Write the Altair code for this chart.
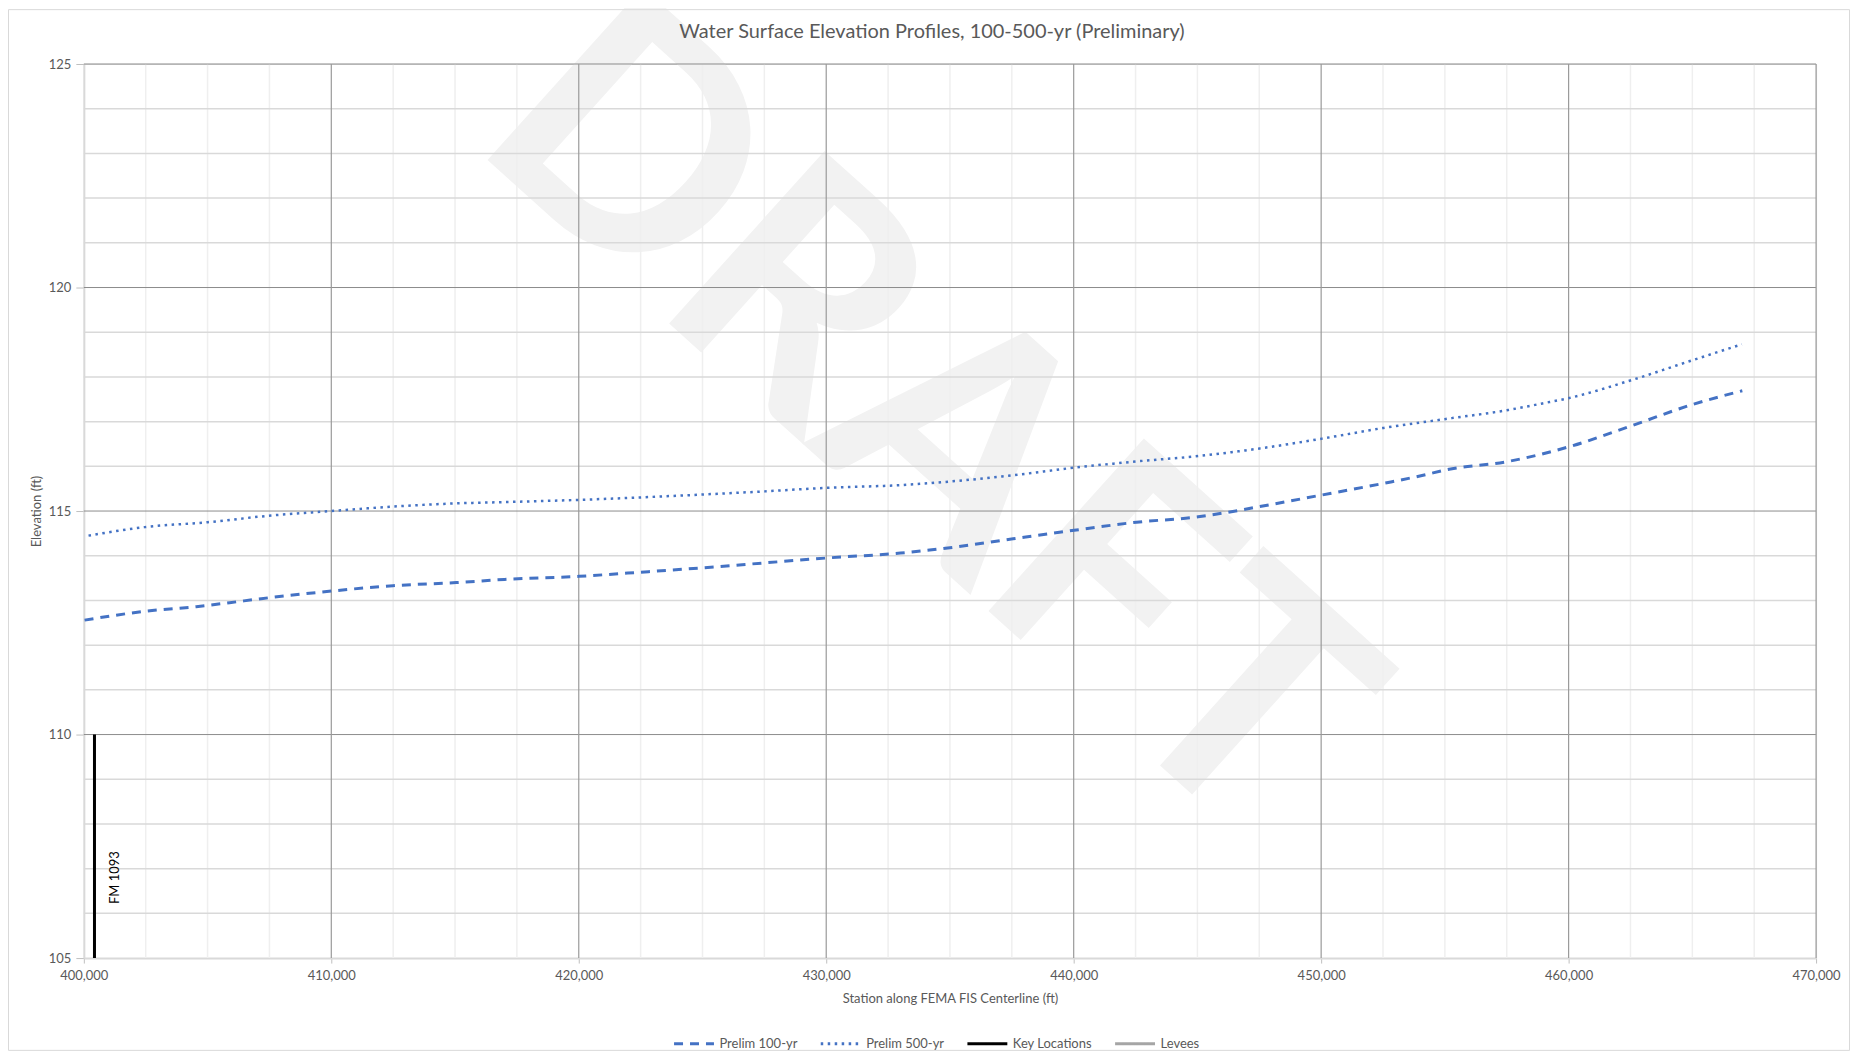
import altair as alt
import pandas as pd

# ---------------- data ----------------
series_names = ["Prelim 100-yr", "Prelim 500-yr", "Key Locations", "Levees"]
series_colors = ["#4472C4", "#4472C4", "#000000", "#A5A5A5"]
series_dashes = [[9, 7], [2.5, 4.5], [1, 0], [1, 0]]

st_100 = [400030, 402520, 404540, 405890, 407170, 410000, 412490, 415050, 417000,
          420010, 422460, 425020, 427510, 430030, 433000, 435000, 437550, 440020,
          442540, 445030, 446310, 447520, 450040, 452530, 454120, 455040,
          457560, 460030, 462550, 465040, 467020]
el_100 = [112.56, 112.76, 112.86, 112.95, 113.04, 113.21, 113.33, 113.40, 113.47,
          113.54, 113.63, 113.73, 113.84, 113.95, 114.06, 114.18, 114.38, 114.57,
          114.75, 114.87, 114.98, 115.10, 115.36, 115.62, 115.80, 115.92,
          116.11, 116.44, 116.91, 117.39, 117.69]

st_500 = [400190, 402450, 405010, 407570, 410000, 412490, 414980, 417000, 420010,
          425020, 427510, 430030, 433000, 435000, 437550, 440020, 442540, 445030,
          447520, 450040, 452530, 455040, 457560, 458970, 460030, 462550, 465040,
          467000]
el_500 = [114.45, 114.64, 114.75, 114.90, 115.00, 115.10, 115.17, 115.20, 115.25,
          115.37, 115.44, 115.52, 115.58, 115.66, 115.80, 115.97, 116.11, 116.23,
          116.40, 116.62, 116.86, 117.06, 117.26, 117.41, 117.53, 117.93, 118.38,
          118.73]

key_station = [400430]
key_low = [105]
key_high = [110]
key_label = ["FM 1093"]
key_label_elev = [106.8]

x_ticks = [400000, 410000, 420000, 430000, 440000, 450000, 460000, 470000]
x_major_grid = [410000, 420000, 430000, 440000, 450000, 460000, 470000]
x_minor_grid = [v for v in range(400000, 470001, 2500) if v % 10000 != 0]
y_ticks = [105, 110, 115, 120, 125]
y_major_grid = [110, 115, 120, 125]
y_minor_grid = [v for v in range(105, 126) if v % 5 != 0]

title_text = ["Water Surface Elevation Profiles, 100-500-yr (Preliminary)"]
watermark_text = ["DRAFT"]
watermark_station = [433900]
watermark_elev = [117.0]

# ---------------- tables ----------------
lines_df = pd.DataFrame({
    "station": st_100 + st_500,
    "elev": el_100 + el_500,
    "series": ["Prelim 100-yr"] * len(st_100) + ["Prelim 500-yr"] * len(st_500),
})
key_df = pd.DataFrame({"station": key_station, "lo": key_low, "hi": key_high,
                       "label": key_label, "ly": key_label_elev,
                       "series": ["Key Locations"]})
wm_df = pd.DataFrame({"station": watermark_station, "elev": watermark_elev, "t": watermark_text})
title_df = pd.DataFrame({"t": title_text})
one_df = pd.DataFrame({"a": [0]})

W, H = 1736, 896
FONT = "Lato"
GRAY_TXT = "#595959"

xs = alt.Scale(domain=[400000, 470000], nice=False, zero=False)
ys = alt.Scale(domain=[105, 125], nice=False, zero=False)
cs = alt.Scale(domain=series_names, range=series_colors)
ds = alt.Scale(domain=series_names, range=series_dashes)

legend = alt.Legend(orient="none", legendX=590, legendY=960, direction="horizontal",
                    title=None, symbolType="stroke", symbolSize=1600, symbolStrokeWidth=3,
                    labelFont=FONT, labelFontSize=13, labelColor=GRAY_TXT, labelOffset=4,
                    columnPadding=16, padding=0)

x_axis = alt.Axis(values=x_ticks, format=",d", grid=False, labelFlush=False,
                  title="Station along FEMA FIS Centerline (ft)", titleY=41,
                  titleBaseline="middle", titleFont=FONT, titleFontSize=13,
                  titleFontWeight="normal", titleColor=GRAY_TXT,
                  labelFont=FONT, labelFontSize=13, labelColor=GRAY_TXT, labelPadding=6,
                  tickSize=5, tickColor="#bfbfbf", domainColor="#d9d9d9", domainWidth=2)
y_axis = alt.Axis(values=y_ticks, grid=False, labelFlush=False,
                  title="Elevation (ft)", titleX=-47, titleY=H / 2, titleAngle=270,
                  titleBaseline="middle", titleAlign="center", titleFont=FONT,
                  titleFontSize=13, titleFontWeight="normal", titleColor=GRAY_TXT,
                  labelFont=FONT, labelFontSize=13, labelColor=GRAY_TXT, labelPadding=5,
                  tickSize=8, tickColor="#bfbfbf", domainColor="#d9d9d9", domainWidth=2)

X = lambda f: alt.X(f, scale=xs, axis=x_axis)
Y = lambda f: alt.Y(f, scale=ys, axis=y_axis)

# watermark
watermark = alt.Chart(wm_df).mark_text(
    font=FONT, fontSize=322, fontWeight="bold", color="#f2f2f2", angle=42,
    align="center", baseline="middle"
).encode(x=X("station:Q"), y=Y("elev:Q"), text="t:N")

# gridlines
vminor = alt.Chart(pd.DataFrame({"v": x_minor_grid})).mark_rule(color="#efefef", strokeWidth=1.5).encode(
    x=X("v:Q"))
hminor = alt.Chart(pd.DataFrame({"v": y_minor_grid})).mark_rule(color="#d9d9d9", strokeWidth=1.5).encode(
    y=Y("v:Q"))
hmajor = alt.Chart(pd.DataFrame({"v": y_major_grid})).mark_rule(color="#8c8c8c", strokeWidth=1).encode(
    y=Y("v:Q"))
vmajor = alt.Chart(pd.DataFrame({"v": x_major_grid})).mark_rule(color="#9a9a9a", strokeWidth=1.2).encode(
    x=X("v:Q"))

# key location
key_rule = alt.Chart(key_df).mark_rule(strokeWidth=3).encode(
    x=X("station:Q"),
    y=Y("lo:Q"),
    y2="hi:Q",
    color=alt.Color("series:N", scale=cs, legend=legend),
    strokeDash=alt.StrokeDash("series:N", scale=ds, legend=legend),
)
key_text = alt.Chart(key_df).mark_text(
    font=FONT, fontSize=13, color="#000000", angle=270, align="center", baseline="middle", dy=21
).encode(x=X("station:Q"), y=Y("ly:Q"), text="label:N")

# profile lines
def profile(name, width):
    return alt.Chart(lines_df).transform_filter(alt.datum.series == name).mark_line(
        strokeWidth=width, interpolate="monotone"
    ).encode(
        x=X("station:Q"),
        y=Y("elev:Q"),
        color=alt.Color("series:N", scale=cs, legend=legend),
        strokeDash=alt.StrokeDash("series:N", scale=ds, legend=legend),
        order="station:Q",
    )

line100 = profile("Prelim 100-yr", 3)
line500 = profile("Prelim 500-yr", 2.5)

title = alt.Chart(title_df).mark_text(
    font=FONT, fontSize=20, color=GRAY_TXT, align="center", baseline="middle"
).encode(x=alt.value(850), y=alt.value(-32), text="t:N")

border = alt.Chart(one_df).mark_rect(filled=False, stroke="#d9d9d9", strokeWidth=1).encode(
    x=alt.value(-75.5), x2=alt.value(W + 33.5), y=alt.value(-54.5), y2=alt.value(H + 92.5))

chart = alt.layer(
    watermark, vminor, hminor, hmajor, vmajor, key_rule, line100, line500, key_text, title, border
).properties(
    width=W, height=H,
    autosize=alt.AutoSizeParams(type="none"),
    padding={"left": 76, "top": 55, "right": 34, "bottom": 93},
).configure_view(stroke=None).configure(font=FONT, background="white")

chart.save("out.html", embed_options={"renderer": "svg", "actions": False})
